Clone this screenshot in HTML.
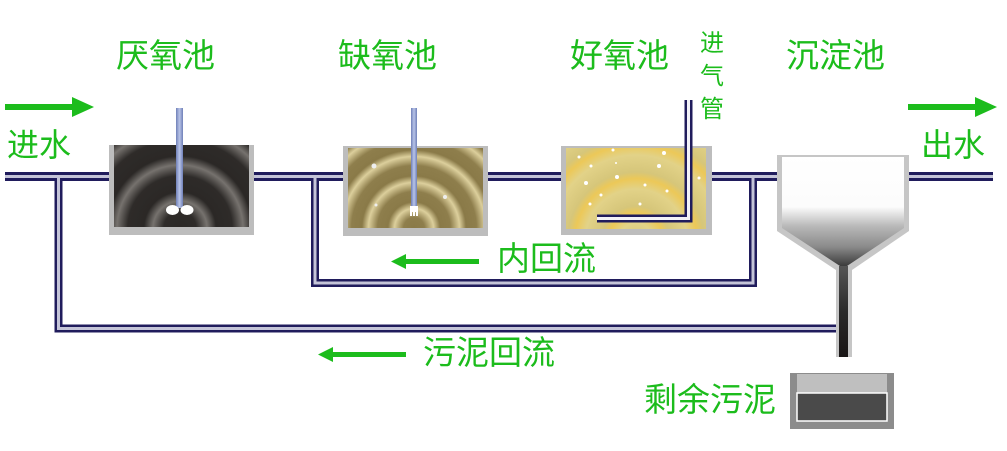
<!DOCTYPE html>
<html><head><meta charset="utf-8"><style>
html,body{margin:0;padding:0;background:#fff;}
svg{display:block;}
text{font-family:"Liberation Sans","Noto Sans CJK SC",sans-serif;fill:#1cbc1c;}
</style></head><body>
<svg width="1007" height="451" viewBox="0 0 1007 451" xmlns="http://www.w3.org/2000/svg">
<defs>
<radialGradient id="g1b" cx="180" cy="228" r="36" gradientUnits="userSpaceOnUse" spreadMethod="repeat">
<stop offset="0" stop-color="#2b2826"/><stop offset="0.45" stop-color="#2e2b29"/><stop offset="0.75" stop-color="#76726e"/><stop offset="1" stop-color="#2b2826"/>
</radialGradient>
<radialGradient id="g2" cx="414" cy="228" r="26" gradientUnits="userSpaceOnUse" spreadMethod="repeat">
<stop offset="0" stop-color="#8a7a48"/><stop offset="0.4" stop-color="#8e7e4c"/><stop offset="0.75" stop-color="#dccf9c"/><stop offset="1" stop-color="#8a7a48"/>
</radialGradient>
<radialGradient id="g3" cx="636" cy="240" r="34" gradientUnits="userSpaceOnUse" spreadMethod="repeat">
<stop offset="0" stop-color="#d6c67a"/><stop offset="0.5" stop-color="#e2d288"/><stop offset="0.8" stop-color="#ecc858"/><stop offset="1" stop-color="#d6c67a"/>
</radialGradient>
<linearGradient id="set" x1="0" y1="155" x2="0" y2="270" gradientUnits="userSpaceOnUse">
<stop offset="0" stop-color="#fff"/><stop offset="0.45" stop-color="#fcfcfc"/><stop offset="0.62" stop-color="#b8b8b8"/><stop offset="0.8" stop-color="#8a8a8a"/><stop offset="1" stop-color="#2a2a2a"/>
</linearGradient>
<linearGradient id="stem" x1="0" y1="0" x2="0" y2="1">
<stop offset="0" stop-color="#555"/><stop offset="0.5" stop-color="#2a2a2a"/><stop offset="1" stop-color="#1a1616"/>
</linearGradient>
<linearGradient id="shaft" x1="0" y1="0" x2="1" y2="0">
<stop offset="0" stop-color="#7080b8"/><stop offset="0.5" stop-color="#b8c4e8"/><stop offset="1" stop-color="#7080b8"/>
</linearGradient>
</defs>

<g fill="none" stroke-linejoin="miter">
<path d="M5 176.5 H110 M254 176.5 H344 M487 176.5 H562 M711 176.5 H778 M908 176.5 H993" stroke="#201c5c" stroke-width="9"/>
<path d="M58.5 176.5 V328.5 H838" stroke="#201c5c" stroke-width="8"/>
<path d="M315 176.5 V283 H753 V176.5" stroke="#201c5c" stroke-width="8"/>
<path d="M5 176.5 H110 M254 176.5 H344 M487 176.5 H562 M711 176.5 H778 M908 176.5 H993" stroke="#c4c4d8" stroke-width="3"/>
<path d="M58.5 178 V328.5 H838" stroke="#c4c4d8" stroke-width="3"/>
<path d="M315 178 V283 H753 V178" stroke="#c4c4d8" stroke-width="3"/>
</g>

<rect x="109" y="145" width="145" height="90" fill="#bdbdbd"/>
<rect x="114" y="145" width="135" height="82" fill="url(#g1b)"/>
<rect x="176" y="108" width="7" height="100" fill="url(#shaft)"/>
<ellipse cx="172.5" cy="210" rx="6.5" ry="5" fill="#fff"/>
<ellipse cx="187" cy="210" rx="6.5" ry="5" fill="#fff"/>

<rect x="343" y="146" width="145" height="90" fill="#bdbdbd"/>
<rect x="348" y="148" width="135" height="80" fill="url(#g2)"/>
<rect x="411" y="108" width="6" height="100" fill="url(#shaft)"/>
<path d="M410 206 h8 v10 h-2 v-4 h-1 v4 h-2 v-4 h-1 v4 h-2z" fill="#fff"/>
<circle cx="374" cy="166" r="2.5" fill="#eee"/><circle cx="445" cy="197" r="2" fill="#eee"/><circle cx="376" cy="205" r="1.5" fill="#eee"/>

<rect x="561" y="146" width="151" height="89" fill="#bdbdbd"/>
<rect x="566" y="148" width="140" height="81" fill="url(#g3)"/>
<g fill="#fff">
<circle cx="579" cy="157" r="1.5"/><circle cx="613" cy="150" r="1.5"/><circle cx="664" cy="153" r="2"/><circle cx="591" cy="166" r="1.5"/><circle cx="617" cy="177" r="2"/><circle cx="659" cy="166" r="2"/><circle cx="586" cy="183" r="2"/><circle cx="645" cy="185" r="1.5"/><circle cx="601" cy="195" r="1.5"/><circle cx="667" cy="191" r="1.5"/><circle cx="590" cy="204" r="1.5"/><circle cx="640" cy="204" r="1.5"/><circle cx="699" cy="178" r="1.5"/><circle cx="616" cy="163" r="1"/>
</g>
<path d="M688.5 100 V218.5 H597" fill="none" stroke="#201c5c" stroke-width="8"/>
<path d="M688.5 100 V218.5 H597" fill="none" stroke="#f2f2f8" stroke-width="3"/>

<path d="M777 155 H909 V231 L852 270 V357 H836 V270 L777 231 Z" fill="#c6c6c6"/>
<path d="M782 157 H904 V228 L847 266 V355 H840 V266 L782 228 Z" fill="url(#set)"/>
<rect x="839" y="266" width="9" height="91" fill="url(#stem)"/>

<rect x="790" y="373" width="104" height="56" fill="#8c8c8c"/>
<rect x="797" y="374" width="90" height="19" fill="#bfbfbf"/>
<rect x="797" y="393" width="90" height="28" fill="#4a4a4a" stroke="#fff" stroke-width="1.5"/>

<g fill="#1cbc1c">
<rect x="5" y="104" width="68" height="6"/><path d="M72 97 L94 107 L72 117Z"/>
<rect x="908" y="104" width="68" height="6"/><path d="M975 97 L997 107 L975 117Z"/>
<rect x="405" y="259" width="74" height="5"/><path d="M406 254 L391 261.5 L406 269Z"/>
<rect x="332" y="352" width="74" height="5"/><path d="M333 347 L318 354.5 L333 362Z"/>
</g>

<g font-size="33">
<text x="116" y="67">厌氧池</text>
<text x="338" y="67">缺氧池</text>
<text x="570" y="67">好氧池</text>
<text x="786" y="67">沉淀池</text>
<text x="7" y="156" font-size="32">进水</text>
<text x="921" y="156" font-size="32">出水</text>
<text x="497" y="270">内回流</text>
<text x="423" y="364">污泥回流</text>
<text x="644" y="411">剩余污泥</text>
</g>
<g font-size="24">
<text x="700" y="51">进</text>
<text x="700" y="84">气</text>
<text x="700" y="117">管</text>
</g>
</svg>
</body></html>
